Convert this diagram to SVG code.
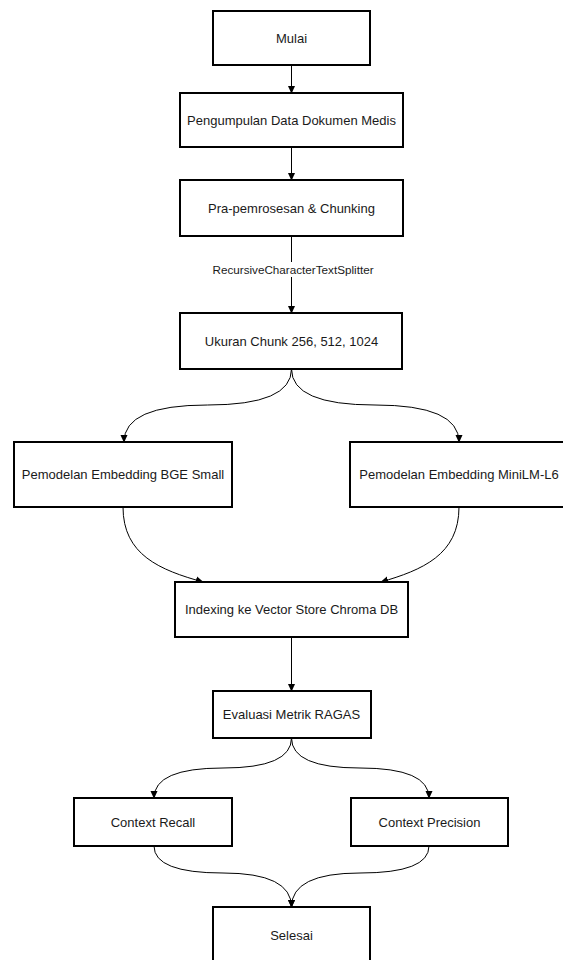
<svg xmlns="http://www.w3.org/2000/svg" width="563" height="960" viewBox="0 0 563 960">
<style>
.box{fill:#fff;stroke:#000;stroke-width:2}
.t{font-family:"Liberation Sans",Arial,sans-serif;font-size:13px;fill:#1a1a1a;text-anchor:middle;dominant-baseline:central}
.lbl{font-family:"Liberation Sans",Arial,sans-serif;font-size:11.7px;fill:#1a1a1a;text-anchor:middle;dominant-baseline:central}
.e{fill:none;stroke:#000;stroke-width:1;marker-end:url(#ah)}
</style>
<defs>
<marker id="ah" viewBox="0 0 10 10" refX="9" refY="5" markerWidth="8" markerHeight="8" markerUnits="userSpaceOnUse" orient="auto">
<path d="M0,0.5 L10,5 L0,9.5 Z" fill="#000"/>
</marker>
</defs>
<rect width="563" height="960" fill="#fff"/>
<g id="connectors">
<path class="e" d="M291.5,65 L291.5,93"/>
<path class="e" d="M291.5,147 L291.5,180"/>
<path class="e" d="M291.5,236 L291.5,313"/>
<path class="e" d="M291.5,369 Q291.5,405 207.5,405 Q124,405 124,442"/>
<path class="e" d="M291.5,369 Q291.5,405 375,405 Q459,405 459,442"/>
<path class="e" d="M123,507 C123,555 160,570 203,582"/>
<path class="e" d="M459,507 C459,555 422,570 381,582"/>
<path class="e" d="M291.5,637 L291.5,691"/>
<path class="e" d="M291.5,738 Q291.5,768 223,768 Q154,768 154,798"/>
<path class="e" d="M291.5,738 Q291.5,768 360,768 Q429,768 429,798"/>
<path class="e" d="M154,846 Q154,873 223,873 Q291.5,873 291.5,907"/>
<path class="e" d="M429,846 Q429,873 360,873 Q291.5,873 291.5,907"/>
<rect x="210" y="262" width="166" height="15" fill="#fff"/>
<text class="lbl" x="293" y="269.5">RecursiveCharacterTextSplitter</text>
</g>
<g id="mulai"><rect class="box" x="213" y="11" width="157" height="54"/><text class="t" x="291.5" y="38">Mulai</text></g>
<g id="pengumpulan"><rect class="box" x="180" y="93" width="223" height="54"/><text class="t" x="291.5" y="120">Pengumpulan Data Dokumen Medis</text></g>
<g id="pra"><rect class="box" x="180" y="180" width="223" height="56"/><text class="t" x="291.5" y="208">Pra-pemrosesan &amp; Chunking</text></g>
<g id="ukuran"><rect class="box" x="180" y="313" width="222" height="56"/><text class="t" x="291.5" y="341">Ukuran Chunk 256, 512, 1024</text></g>
<g id="bge"><rect class="box" x="14" y="442" width="218" height="65"/><text class="t" x="123" y="474.5">Pemodelan Embedding BGE Small</text></g>
<g id="minilm"><rect class="box" x="350" y="442" width="218" height="65"/><text class="t" x="459" y="474.5">Pemodelan Embedding MiniLM-L6</text></g>
<g id="indexing"><rect class="box" x="175" y="582" width="233" height="55"/><text class="t" x="291.5" y="609.5">Indexing ke Vector Store Chroma DB</text></g>
<g id="evaluasi"><rect class="box" x="213" y="691" width="158" height="47"/><text class="t" x="291.5" y="714.5">Evaluasi Metrik RAGAS</text></g>
<g id="recall"><rect class="box" x="74" y="798" width="158" height="48"/><text class="t" x="153" y="822">Context Recall</text></g>
<g id="precision"><rect class="box" x="351" y="798" width="157" height="48"/><text class="t" x="429.5" y="822">Context Precision</text></g>
<g id="selesai"><rect class="box" x="213" y="907" width="157" height="56"/><text class="t" x="291.5" y="935">Selesai</text></g>
</svg>
